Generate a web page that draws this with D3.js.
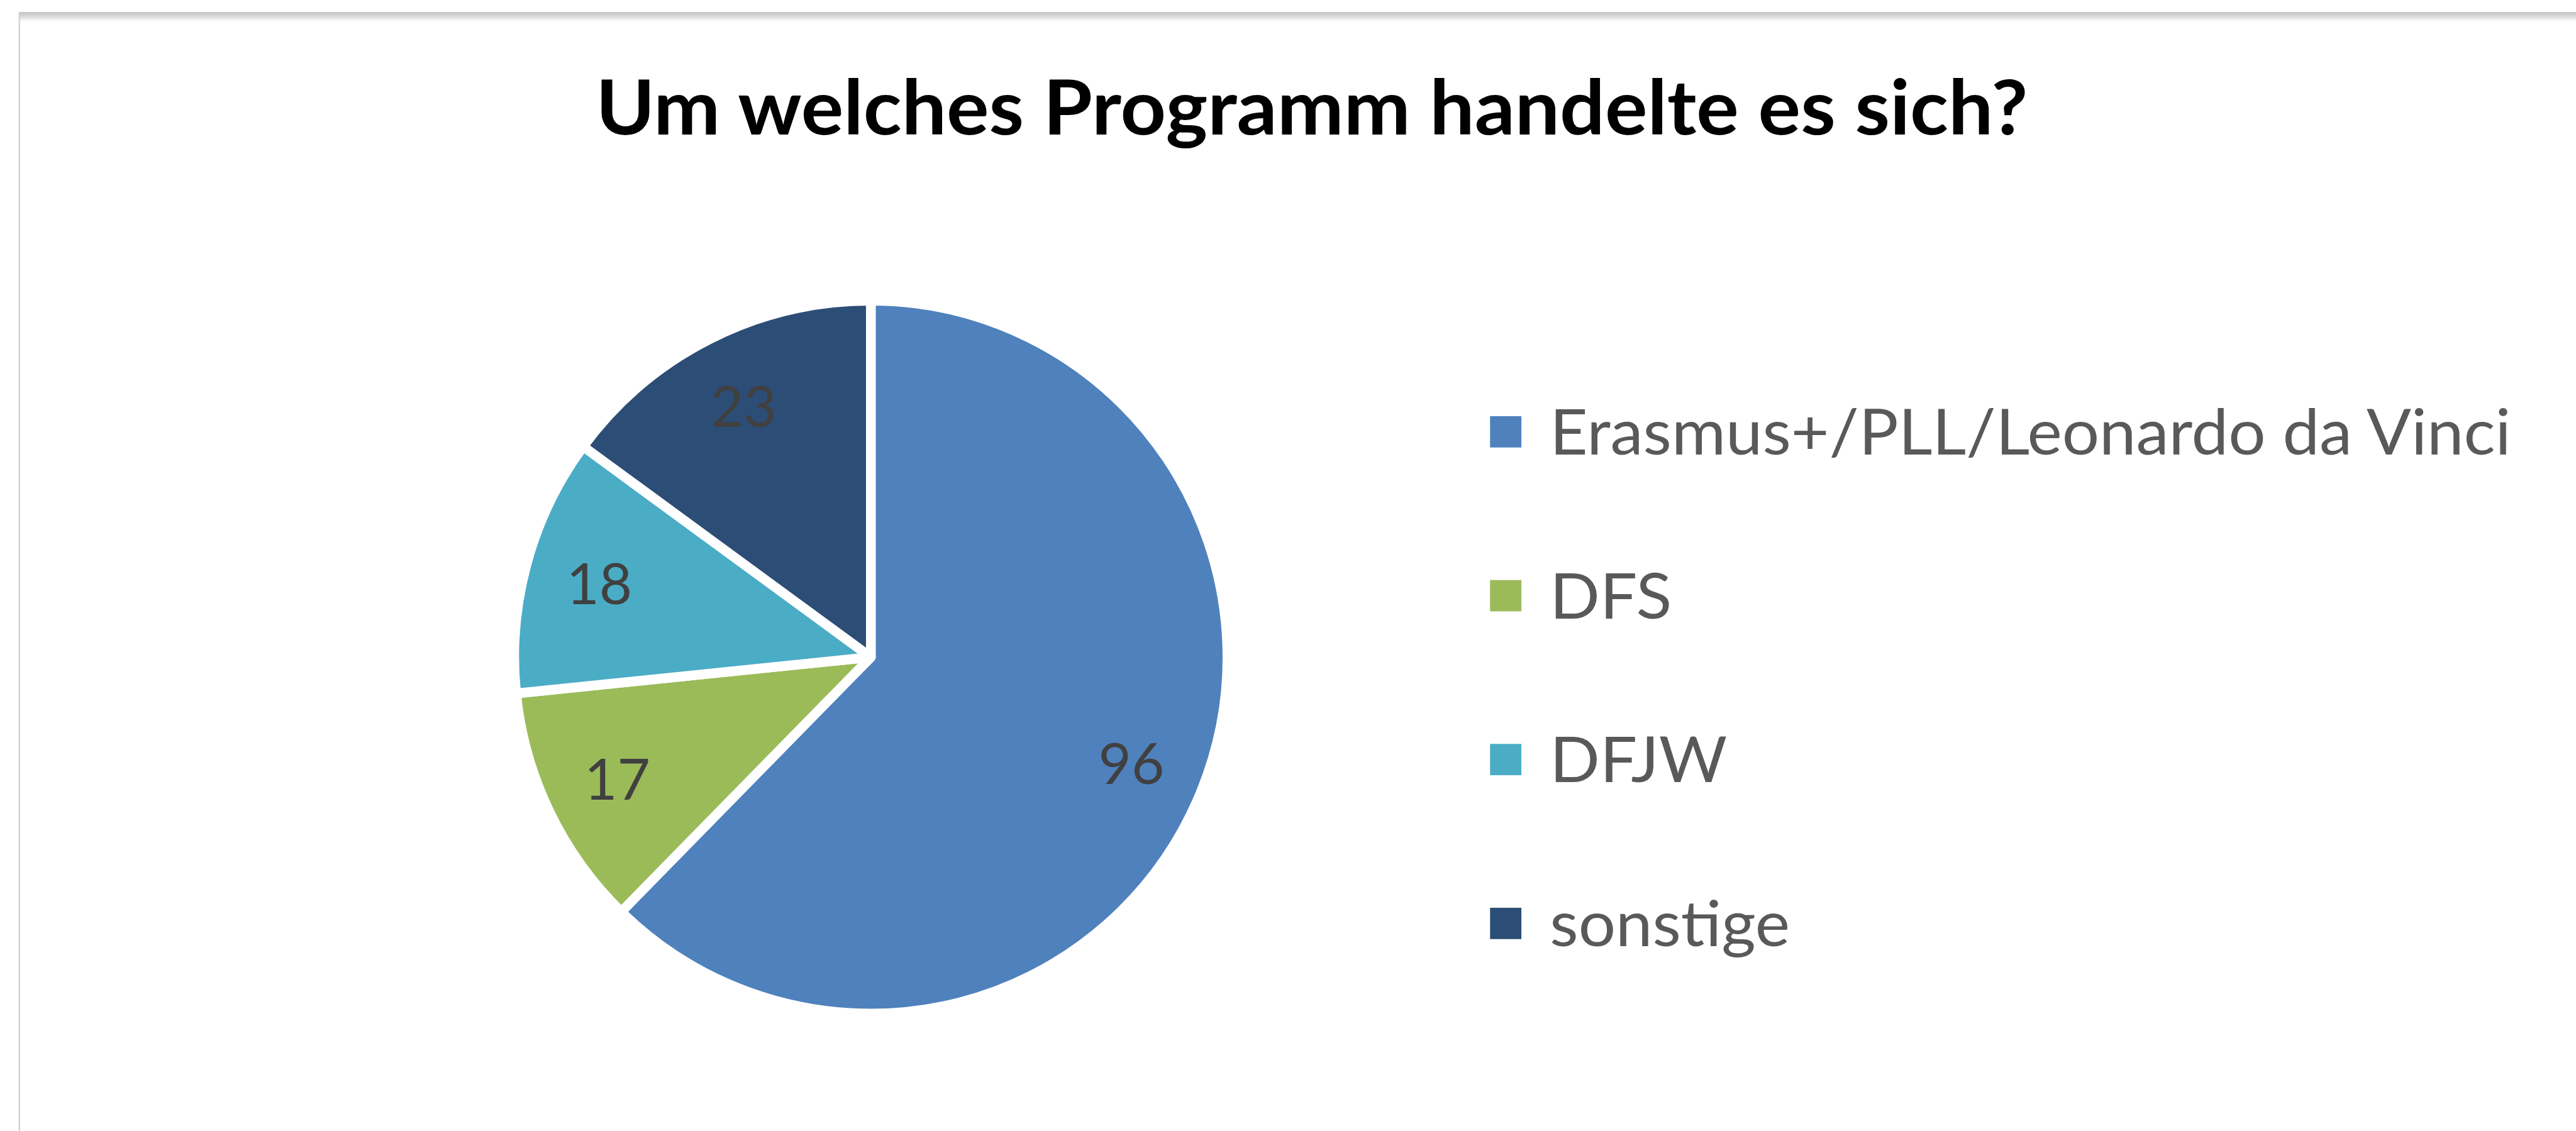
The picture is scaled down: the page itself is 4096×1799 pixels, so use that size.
<!DOCTYPE html>
<html>
<head>
<meta charset="utf-8">
<script src="https://cdn.jsdelivr.net/npm/d3@7"></script>
<style>
  body { margin: 0; background: #ffffff; overflow: hidden; }
  text { font-family: Lato, "Open Sans", sans-serif; }
</style>
</head>
<body>
<script>
// chart data
var title_text = "Um welches Programm handelte es sich?";
var categories = ["Erasmus+/PLL/Leonardo da Vinci", "DFS", "DFJW", "sonstige"];
var values = [96, 17, 18, 23];
var slice_colors = ["#4F81BD", "#9BBB59", "#4BACC6", "#2C4D75"];

// everything is laid out in reference pixels, then shrunk
var k = 0.905;
var w = 4096, h = 1799;

var svg = d3.select("body").append("svg")
  .attr("width", w)
  .attr("height", h);

// frame of the chart area (top edge with soft shadow, thin left edge)
var defs = svg.append("defs");
var grad = defs.append("linearGradient")
  .attr("id", "top_shadow")
  .attr("x1", 0).attr("y1", 0).attr("x2", 0).attr("y2", 1);
grad.append("stop").attr("offset", "0%").attr("stop-color", "#c4c4c4");
grad.append("stop").attr("offset", "40%").attr("stop-color", "#d6d6d6");
grad.append("stop").attr("offset", "100%").attr("stop-color", "#ffffff");

svg.append("rect")
  .attr("x", 33 * k)
  .attr("y", 21 * k)
  .attr("width", w)
  .attr("height", 17 * k)
  .attr("fill", "url(#top_shadow)");

svg.append("line")
  .attr("x1", 34 * k).attr("x2", 34 * k)
  .attr("y1", 21 * k).attr("y2", h)
  .attr("stroke", "#d4d4d4")
  .attr("stroke-width", 2.5);

var g = svg.append("g").attr("transform", "scale(" + k + ")");

// Title
var title = g.append("text")
  .attr("x", 2305)
  .attr("y", 237)
  .attr("text-anchor", "middle")
  .style("font-weight", "bold")
  .style("font-size", "133px")
  .style("fill", "#000000")
  .text(title_text);
title.attr("textLength", 2516).attr("lengthAdjust", "spacingAndGlyphs");

// Pie
var cx = 1530, cy = 1155;
var r_visible = 618;
var gap = 17;

var pie = d3.pie()
  .sort(null)
  .value(function(d){ return d.value; });

var slices = pie(categories.map(function(c, i){
  return {name: c, value: values[i], color: slice_colors[i]};
}));

var arc = d3.arc()
  .innerRadius(0)
  .outerRadius(r_visible + gap / 2);

var label_arc = d3.arc()
  .innerRadius(r_visible * 0.8)
  .outerRadius(r_visible * 0.8);

var g_pie = g.append("g")
  .attr("transform", "translate(" + cx + "," + cy + ")");

g_pie.selectAll("path")
  .data(slices)
  .enter()
  .append("path")
  .attr("d", arc)
  .style("fill", function(d){ return d.data.color; })
  .style("stroke", "#ffffff")
  .style("stroke-width", gap)
  .style("stroke-linejoin", "round");

g_pie.selectAll("text")
  .data(slices)
  .enter()
  .append("text")
  .attr("transform", function(d){
    var c = label_arc.centroid(d);
    return "translate(" + c[0] + "," + c[1] + ")";
  })
  .attr("text-anchor", "middle")
  .attr("dy", "0.36em")
  .style("font-size", "100px")
  .style("fill", "#404040")
  .text(function(d){ return d.data.value; });

// Legend
var legend_x = 2618;
var legend_y0 = 759;
var legend_step = 288;
var square = 55;

var g_legend = g.append("g");

var items = g_legend.selectAll("g")
  .data(categories)
  .enter()
  .append("g")
  .attr("transform", function(d, i){
    return "translate(" + legend_x + "," + (legend_y0 + i * legend_step) + ")";
  });

items.append("rect")
  .attr("x", 0)
  .attr("y", -square / 2)
  .attr("width", square)
  .attr("height", square)
  .style("fill", function(d, i){ return slice_colors[i]; });

var legend_texts = items.append("text")
  .attr("x", 0)
  .attr("y", 40)
  .style("font-size", "112px")
  .style("fill", "#595959")
  .text(function(d){ return d; });

// squeeze the legend text so the longest entry spans what the reference shows
var longest = legend_texts.nodes()[0].getComputedTextLength();
var sx = 1689 / longest;
legend_texts.attr("transform", "translate(105,0) scale(" + sx + ",1)");
</script>
</body>
</html>
